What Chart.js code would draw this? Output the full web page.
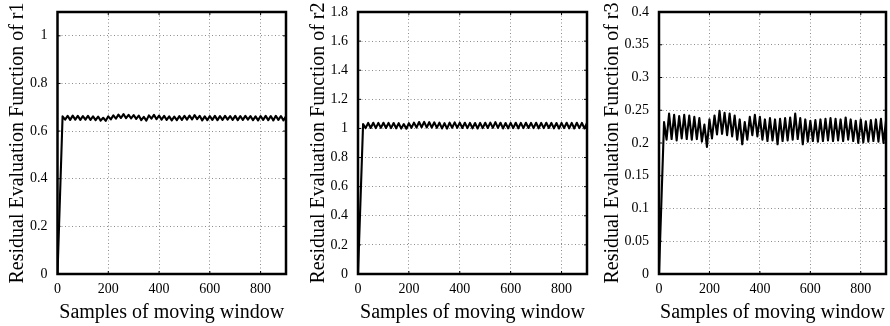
<!DOCTYPE html>
<html>

<head>
  <title>Residual Evaluation Functions</title>
  <script type="text/javascript" src="https://cdn.jsdelivr.net/npm/chart.js"></script>
  <style>
    body { margin: 0; background: #fff; }
    .panel { position: absolute; top: 0; }
  </style>
</head>

<body>

  <div class="panel" style="left:0px"><canvas id="chart-r1" width="290" height="326"></canvas></div>
  <div class="panel" style="left:300px"><canvas id="chart-r2" width="292" height="326"></canvas></div>
  <div class="panel" style="left:595px"><canvas id="chart-r3" width="295" height="326"></canvas></div>

  <script type="text/javascript">
    const samples = [0, 20, 30, 40, 50, 60, 70, 80, 90, 100,
        110, 120, 130, 140, 150, 160, 170, 180, 190, 200,
        210, 220, 230, 240, 250, 260, 270, 280, 290, 300,
        310, 320, 330, 340, 350, 360, 370, 380, 390, 400,
        410, 420, 430, 440, 450, 460, 470, 480, 490, 500,
        510, 520, 530, 540, 550, 560, 570, 580, 590, 600,
        610, 620, 630, 640, 650, 660, 670, 680, 690, 700,
        710, 720, 730, 740, 750, 760, 770, 780, 790, 800,
        810, 820, 830, 840, 850, 860, 870, 880, 890, 900];

    const r1 = [0, 0.662, 0.648, 0.664, 0.647, 0.665, 0.648, 0.664, 0.647, 0.663,
        0.648, 0.664, 0.647, 0.662, 0.646, 0.661, 0.644, 0.656, 0.643, 0.662,
        0.649, 0.666, 0.652, 0.669, 0.655, 0.671, 0.654, 0.668, 0.653, 0.667,
        0.651, 0.665, 0.646, 0.660, 0.644, 0.666, 0.652, 0.668, 0.650, 0.665,
        0.648, 0.664, 0.647, 0.662, 0.645, 0.661, 0.646, 0.663, 0.647, 0.664,
        0.648, 0.665, 0.649, 0.667, 0.650, 0.664, 0.645, 0.662, 0.646, 0.663,
        0.647, 0.664, 0.646, 0.663, 0.647, 0.664, 0.648, 0.663, 0.647, 0.664,
        0.646, 0.663, 0.647, 0.664, 0.648, 0.663, 0.646, 0.662, 0.645, 0.663,
        0.647, 0.664, 0.646, 0.663, 0.645, 0.664, 0.647, 0.663, 0.645, 0.662];

    const r2 = [0, 1.030, 1.002, 1.038, 1.003, 1.039, 1.002, 1.038, 1.004, 1.039,
        1.003, 1.038, 1.002, 1.037, 1.001, 1.036, 0.999, 1.030, 0.998, 1.036,
        1.004, 1.040, 1.006, 1.044, 1.008, 1.045, 1.007, 1.043, 1.006, 1.042,
        1.004, 1.040, 1.000, 1.036, 0.999, 1.040, 1.005, 1.042, 1.004, 1.040,
        1.003, 1.039, 1.002, 1.038, 1.001, 1.037, 1.000, 1.038, 1.002, 1.039,
        1.003, 1.040, 1.004, 1.043, 1.004, 1.039, 1.000, 1.037, 1.001, 1.038,
        1.002, 1.039, 1.001, 1.038, 1.002, 1.039, 1.003, 1.038, 1.002, 1.039,
        1.001, 1.038, 1.002, 1.039, 1.003, 1.038, 1.001, 1.037, 1.000, 1.038,
        1.002, 1.039, 1.001, 1.038, 1.000, 1.039, 1.002, 1.038, 1.000, 1.037];

    const r3 = [0, 0.232, 0.205, 0.245, 0.206, 0.243, 0.204, 0.241, 0.207, 0.243,
        0.206, 0.242, 0.205, 0.240, 0.206, 0.238, 0.202, 0.228, 0.194, 0.236,
        0.207, 0.242, 0.213, 0.249, 0.214, 0.246, 0.212, 0.245, 0.210, 0.242,
        0.205, 0.236, 0.198, 0.232, 0.205, 0.240, 0.212, 0.243, 0.210, 0.240,
        0.205, 0.236, 0.203, 0.238, 0.204, 0.236, 0.198, 0.237, 0.203, 0.238,
        0.204, 0.239, 0.205, 0.245, 0.206, 0.238, 0.198, 0.236, 0.202, 0.234,
        0.203, 0.235, 0.202, 0.236, 0.203, 0.237, 0.204, 0.238, 0.203, 0.237,
        0.204, 0.236, 0.203, 0.239, 0.205, 0.236, 0.203, 0.234, 0.200, 0.236,
        0.201, 0.233, 0.202, 0.235, 0.203, 0.236, 0.202, 0.237, 0.200, 0.234];

    const xTitle = 'Samples of moving window';
    const xTicks = [0, 200, 400, 600, 800];
    const yTitles = ['Residual Evaluation Function of r1',
        'Residual Evaluation Function of r2',
        'Residual Evaluation Function of r3'];
    const yMax = [1.1, 1.8, 0.4];
    const yTicks = [
        [0, 0.2, 0.4, 0.6, 0.8, 1],
        [0, 0.2, 0.4, 0.6, 0.8, 1, 1.2, 1.4, 1.6, 1.8],
        [0, 0.05, 0.1, 0.15, 0.2, 0.25, 0.3, 0.35, 0.4]
    ];

    Chart.defaults.font.family = '"Liberation Serif", "DejaVu Serif", serif';
    Chart.defaults.color = '#000';

    // box round the plot area plus small inward tick marks
    const framePlugin = {
        id: 'frame',
        afterDatasetsDraw(chart) {
            const ctx = chart.ctx;
            const a = chart.chartArea;
            const xs = chart.scales.x, ys = chart.scales.y;
            ctx.save();
            ctx.strokeStyle = '#000';
            ctx.lineWidth = 1;
            ctx.beginPath();
            for (const t of xs.ticks) {
                const px = xs.getPixelForValue(t.value);
                ctx.moveTo(px, a.bottom); ctx.lineTo(px, a.bottom - 3);
                ctx.moveTo(px, a.top); ctx.lineTo(px, a.top + 3);
            }
            for (const t of ys.ticks) {
                const py = ys.getPixelForValue(t.value);
                ctx.moveTo(a.left, py); ctx.lineTo(a.left + 3, py);
                ctx.moveTo(a.right, py); ctx.lineTo(a.right - 3, py);
            }
            ctx.stroke();
            ctx.lineWidth = 2.5;
            ctx.strokeRect(a.left, a.top, a.right - a.left, a.bottom - a.top);
            ctx.restore();
        }
    };

    function MakePanel(id, values, idx, yWidth, titlePad, padRight) {
        const points = samples.map((s, i) => ({ x: s, y: values[i] }));
        const grid = {
            color: '#8c8c8c',
            lineWidth: 1,
            drawTicks: false
        };
        return new Chart(document.getElementById(id), {
            type: 'line',
            data: {
                datasets: [{
                    data: points,
                    borderColor: '#000',
                    borderWidth: 2.1,
                    borderJoinStyle: 'round',
                    pointRadius: 0,
                    tension: 0
                }]
            },
            options: {
                responsive: false,
                animation: false,
                layout: { padding: { top: 12, right: padRight, bottom: 0, left: 0 } },
                plugins: { legend: { display: false }, tooltip: { enabled: false } },
                scales: {
                    x: {
                        type: 'linear',
                        min: 0,
                        max: 900,
                        grid: grid,
                        border: { display: false, dash: [1, 2.5] },
                        ticks: { padding: 7, maxRotation: 0, autoSkip: false, font: { size: 14 } },
                        afterBuildTicks: scale => {
                            scale.ticks = xTicks.map(v => ({ value: v }));
                        },
                        afterFit: scale => { scale.height = 52; },
                        title: {
                            display: true,
                            text: xTitle,
                            font: { size: 20, lineHeight: 1.2 },
                            padding: { top: 0, bottom: 1 }
                        }
                    },
                    y: {
                        min: 0,
                        max: yMax[idx],
                        grid: grid,
                        border: { display: false, dash: [1, 2.5] },
                        ticks: {
                            padding: 10,
                            autoSkip: false,
                            font: { size: 14 },
                            callback: v => String(Math.round(v * 100) / 100)
                        },
                        afterBuildTicks: scale => {
                            scale.ticks = yTicks[idx].map(v => ({ value: v }));
                        },
                        afterFit: scale => {
                            scale.width = yWidth;
                            scale.paddingTop = 0;
                            scale.paddingBottom = 0;
                        },
                        title: {
                            display: true,
                            text: yTitles[idx],
                            font: { size: 20, lineHeight: 1.2 },
                            padding: { top: titlePad, bottom: 0 }
                        }
                    }
                }
            },
            plugins: [framePlugin]
        });
    }

    window.onload = function() {
        MakePanel('chart-r1', r1, 0, 57.5, 6, 4);
        MakePanel('chart-r2', r2, 1, 58, 7, 5);
        MakePanel('chart-r3', r3, 2, 64, 6, 4);
    };
  </script>

</body>

</html>
